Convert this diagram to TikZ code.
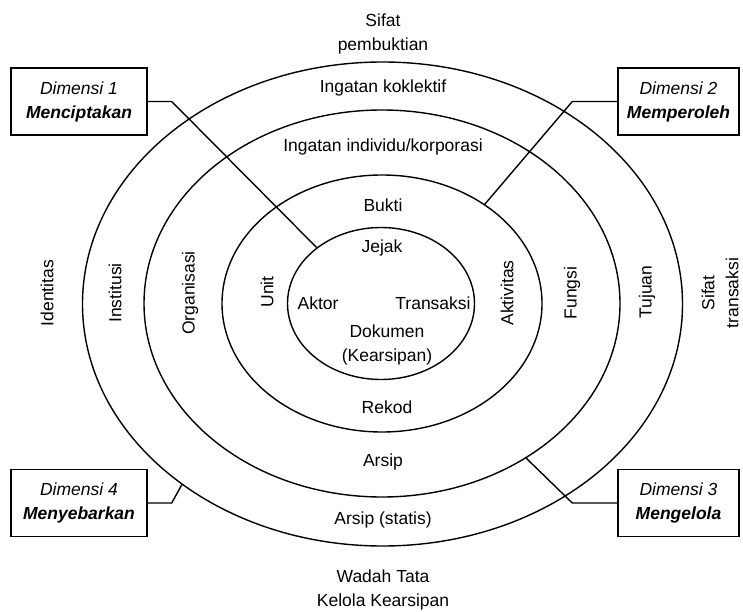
\documentclass[tikz,border=0pt]{standalone}
\usepackage{fontspec}
\setmainfont{Liberation Sans}
\usepackage{tikz}
\usetikzlibrary{shapes.geometric}

\begin{document}
\begin{tikzpicture}[x=1pt,y=1pt,
  every node/.style={font=\fontsize{17.5}{24}\selectfont},
  ring/.style={draw,ellipse,line width=1.4pt,inner sep=0pt},
  dimbox/.style={draw,line width=1.4pt,minimum height=67pt,align=center,inner sep=0pt},
  link/.style={line width=1.4pt}]
  \useasboundingbox (0,0) rectangle (743,611);
  % four rings
  \node[ring,minimum width=600,minimum height=484] (rkolektif) at (382.5,307) {};
  \node[ring,minimum width=476,minimum height=387] (rindividu) at (382,307.5) {};
  \node[ring,minimum width=320,minimum height=257] (rbukti) at (382,307.5) {};
  \node[ring,minimum width=187,minimum height=152] (rjejak) at (381,307.5) {};
  % top and bottom labels
  \node[align=center] (sifatb) at (383,577.5) {Sifat\\pembuktian};
  \node (kolektif) at (383,523) {Ingatan koklektif};
  \node (individu) at (383,464) {Ingatan individu/korporasi};
  \node (bukti) at (383,406) {Bukti};
  \node (jejak) at (382,363) {Jejak};
  \node (aktor) at (318,308) {Aktor};
  \node (transaksi) at (433,308) {Transaksi};
  \node[align=center] (dokumen) at (387,266) {Dokumen\\(Kearsipan)};
  \node (rekod) at (387,204) {Rekod};
  \node (arsip) at (383,149) {Arsip};
  \node (statis) at (383,91) {Arsip (statis)};
  \node[align=center] (wadah) at (383,21) {Wadah Tata\\Kelola Kearsipan};
  % side labels
  \node[rotate=90] (identitas) at (47,318) {Identitas};
  \node[rotate=90] (institusi) at (115,318) {Institusi};
  \node[rotate=90] (organisasi) at (190,318) {Organisasi};
  \node[rotate=90] (unit) at (267,319) {Unit};
  \node[rotate=90] (aktivitas) at (507,318) {Aktivitas};
  \node[rotate=90] (fungsi) at (572,318) {Fungsi};
  \node[rotate=90] (tujuan) at (647,319) {Tujuan};
  \node[rotate=90,align=center] (sifatt) at (720,318) {Sifat\\transaksi};
  % dimension boxes
  \node[dimbox,minimum width=136] (dim1) at (79,509.5) {\textit{Dimensi 1}\\\textbf{\textit{Menciptakan}}};
  \node[dimbox,minimum width=121] (dim2) at (678.5,509.5) {\textit{Dimensi 2}\\\textbf{\textit{Memperoleh}}};
  \node[dimbox,minimum width=121] (dim3) at (678.5,108) {\textit{Dimensi 3}\\\textbf{\textit{Mengelola}}};
  \node[dimbox,minimum width=136] (dim4) at (79,108) {\textit{Dimensi 4}\\\textbf{\textit{Menyebarkan}}};
  \draw[link] (dim1.east) -- ++(24,0) -- (rjejak.139.5);
  \draw[link] (dim2.west) -- ++(-45,0) -- (rbukti.44.6);
  \draw[link] (dim3.west) -- ++(-45,0) -- (rindividu.-47.4);
  \draw[link] (dim4.east) -- ++(24,0) -- (rkolektif.222.8);
\end{tikzpicture}
\end{document}
